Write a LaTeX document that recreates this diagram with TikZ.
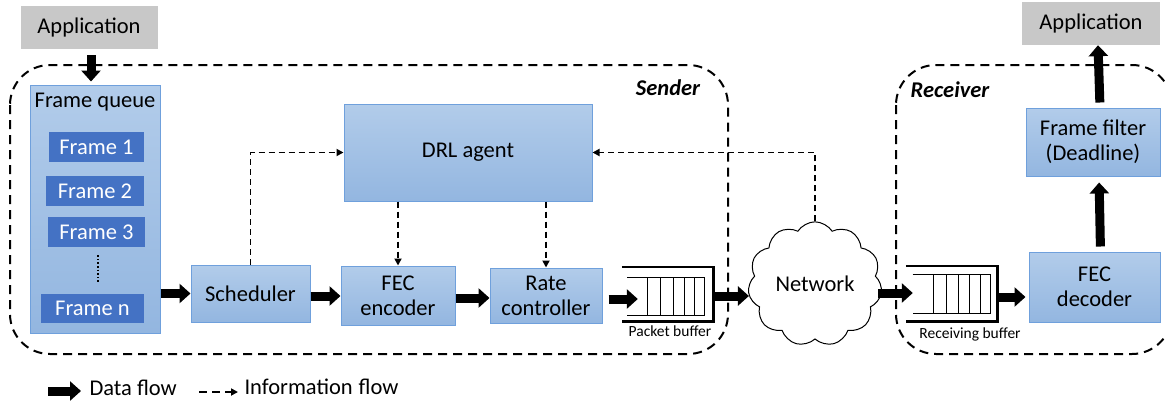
\documentclass[tikz,border=0pt]{standalone}
\usepackage{fontspec}
\setmainfont{Carlito}
\usetikzlibrary{arrows.meta,shapes.symbols,calc}
\definecolor{boxtop}{HTML}{B2CCEA}
\definecolor{boxbot}{HTML}{93B6E0}
\definecolor{boxline}{HTML}{6FA0DC}
\definecolor{framebl}{HTML}{4472C4}
\definecolor{appgray}{HTML}{C8C8C8}
\newcommand{\bigtxt}{\fontsize{22.5}{25}\selectfont}
\newcommand{\smalltxt}{\fontsize{15.5}{17}\selectfont}
\begin{document}
\begin{tikzpicture}[x=1pt,y=-1pt,
  bluebox/.style={draw=boxline, line width=1pt, top color=boxtop, bottom color=boxbot,
    align=center, inner sep=0pt, font=\bigtxt},
  framebox/.style={fill=framebl, text=white, inner sep=0pt, font=\bigtxt, minimum height=30pt},
  appbox/.style={fill=appgray, inner sep=0pt, font=\bigtxt, minimum width=137pt, minimum height=43pt},
  data/.style={line width=9pt, -{Triangle[length=11pt,width=19pt]}},
  info/.style={line width=1.9pt, dash pattern=on 6pt off 4pt, -{Triangle[length=7pt,width=7pt]}},
  region/.style={line width=2pt, dash pattern=on 9pt off 6pt, rounded corners=40pt},
  bufthick/.style={line width=2.6pt},
  bufthin/.style={line width=1pt}]
\useasboundingbox (0,0) rectangle (1165,405);

% regions
\draw[region] (10,65) rectangle (728,354);
\draw[region] (896,65) rectangle (1172,354);
\node[font=\bigtxt\bfseries\itshape] (sender) at (668,88) {Sender};
\node[font=\bigtxt\bfseries\itshape] (receiver) at (950,90) {Receiver};

% sender nodes
\node[appbox] (app1) at (89,27.5) {Application};
\node[bluebox, minimum width=130pt, minimum height=248pt] (queue) at (95,209) {};
\node[font=\bigtxt] (qlabel) at (95,102) {Frame queue};
\node[framebox, minimum width=95pt] (f1) at (96.5,147) {Frame 1};
\node[framebox, minimum width=98pt] (f2) at (95,191) {Frame 2};
\node[framebox, minimum width=97pt] (f3) at (96.5,232) {Frame 3};
\node[framebox, minimum width=103pt, minimum height=29pt] (fn) at (92.5,308.5) {Frame n};
\draw[line width=1.6pt, dotted] (f3.south -| 98,0) ++(0,8) coordinate (d1) -- ++(0,27) coordinate (d2);

\node[bluebox, minimum width=119pt, minimum height=57pt] (sched) at (250.5,293.5) {Scheduler};
\node[bluebox, minimum width=114pt, minimum height=59pt] (fec) at (398,295.5) {FEC\\encoder};
\node[bluebox, minimum width=112pt, minimum height=55pt] (rate) at (546,295.5) {Rate\\controller};
\node[bluebox, minimum width=248pt, minimum height=97pt] (drl) at (468,152.5) {DRL agent};

% packet buffer
\node[minimum width=91pt, minimum height=54pt, inner sep=0pt] (pbuf) at (667.5,294) {};
\draw[bufthick] (pbuf.north west) -- (pbuf.north east) -- (pbuf.south east) -- (pbuf.south west);
\begin{scope}[shift={(pbuf.center)}]
  \draw[bufthin] (-40.5,-17) -- (36.5,-17) -- (36.5,21) -- (-40.5,21);
  \foreach \xx in {-20.5,-7.5,5.5,16.5,26.5} \draw[bufthin] (\xx,-17) -- (\xx,21);
\end{scope}
\node[font=\smalltxt, anchor=north] (pblabel) at (670,322) {Packet buffer};

% network
\node[cloud, draw, line width=1pt, fill=white, cloud puffs=11, cloud puff arc=115,
  minimum width=134pt, minimum height=92pt, inner sep=0pt, font=\bigtxt] (net) at (815,284) {Network};

% receiver nodes
\node[minimum width=91pt, minimum height=55pt, inner sep=0pt] (rbuf) at (951.5,293.5) {};
\draw[bufthick] (rbuf.north west) -- (rbuf.north east) -- (rbuf.south east) -- (rbuf.south west);
\begin{scope}[shift={(rbuf.center)}]
  \draw[bufthin] (-39,-19) -- (38.5,-19) -- (38.5,19.5) -- (-39,19.5);
  \foreach \xx in {-18,-5,7,18,28.5} \draw[bufthin] (\xx,-19) -- (\xx,19.5);
\end{scope}
\node[font=\smalltxt, anchor=north] (rblabel) at (970,324) {Receiving buffer};

\node[bluebox, minimum width=131pt, minimum height=70pt] (fecd) at (1094.5,287) {FEC\\decoder};
\node[bluebox, minimum width=134pt, minimum height=68pt] (filter) at (1093,142) {Frame filter\\(Deadline)};
\node[appbox, minimum width=138pt] (app2) at (1091,23.5) {Application};

% data flow
\draw[data, shorten <=6pt, shorten >=3pt] (app1.south -| 91,0) -- (queue.north -| 91,0);
\draw[data] (queue.east |- sched.west) -- (sched.west);
\draw[data] (sched.east |- 0,296) -- (fec.west |- 0,296);
\draw[data] (fec.east |- 0,298) -- (rate.west |- 0,298);
\draw[data, shorten <=6pt, shorten >=-16pt] (rate.east |- 0,299) -- (pbuf.west |- 0,299);
\draw[data, shorten <=2pt] (pbuf.east |- 0,296) -- (net.west |- 0,296);
\draw[data, shorten <=-3pt, shorten >=-7pt] (net.east |- 0,293) -- (rbuf.west |- 0,293);
\draw[data, shorten <=2pt, shorten >=3pt] (rbuf.east |- 0,297) -- (fecd.west |- 0,297);
\draw[data, shorten <=5pt, shorten >=6pt] ([xshift=6pt]fecd.north) -- ([xshift=6pt]filter.south);
\draw[data, shorten <=5pt] ([xshift=7pt]filter.north) -- ([xshift=7pt]app2.south);

% information flow
\draw[info] (sched.north) |- (drl.west);
\draw[info] (drl.south -| fec.north) -- (fec.north);
\draw[info] (drl.south -| rate.north) -- (rate.north);
\draw[info] (net.north) |- (drl.east);

% legend
\coordinate (la1) at (48,391);
\coordinate (la2) at (81,391);
\draw[data] (la1) -- (la2);
\node[font=\bigtxt, anchor=west] (ltxt1) at (86,388) {Data flow};
\coordinate (lb1) at (199,392);
\coordinate (lb2) at (238,392);
\draw[info, dash pattern=on 8pt off 5pt] (lb1) -- (lb2);
\node[font=\bigtxt, anchor=west] (ltxt2) at (241,387) {Information\hspace{6pt}flow};
\end{tikzpicture}
\end{document}
